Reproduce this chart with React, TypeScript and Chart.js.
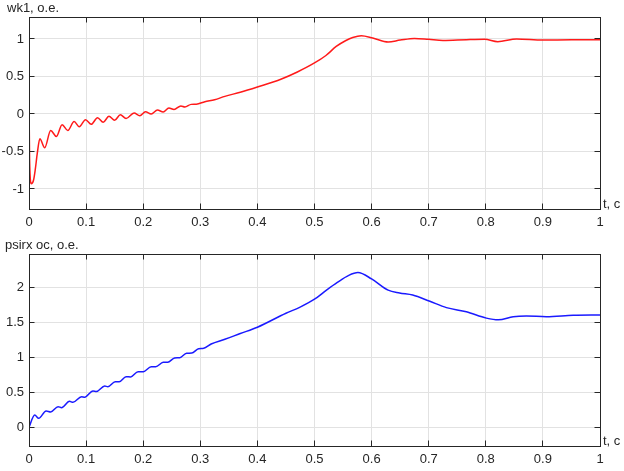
import React, { useEffect, useRef } from "react";
import { Chart, registerables } from "chart.js";

Chart.register(...registerables);

// ---- data ----
const tWk1 = [
  0, 0.001, 0.004, 0.008, 0.011, 0.0146, 0.019, 0.0275, 0.038, 0.048, 0.058, 0.068, 0.079, 0.088,
  0.099, 0.109, 0.12, 0.13, 0.14, 0.15, 0.16, 0.17, 0.184, 0.194, 0.204, 0.214, 0.225, 0.235,
  0.245, 0.254, 0.266, 0.273, 0.284, 0.293, 0.308, 0.325, 0.343, 0.37, 0.4, 0.44, 0.47, 0.5,
  0.52, 0.538, 0.555, 0.567, 0.582, 0.602, 0.629, 0.65, 0.675, 0.7, 0.725, 0.766, 0.798, 0.821,
  0.854, 0.9, 0.95, 1.0,
];
const wk1 = [
  0.23, -0.6, -0.93, -0.88, -0.74, -0.52, -0.33, -0.45, -0.22, -0.3, -0.143, -0.22, -0.1, -0.17,
  -0.076, -0.138, -0.049, -0.11, -0.03, -0.085, -0.01, -0.06, 0.013, -0.023, 0.03, 0.0, 0.053, 0.027,
  0.08, 0.06, 0.107, 0.093, 0.128, 0.13, 0.164, 0.19, 0.235, 0.29, 0.36, 0.46, 0.56, 0.68,
  0.78, 0.9, 0.98, 1.02, 1.044, 1.013, 0.96, 0.985, 1.008, 0.995, 0.98, 0.99, 0.995, 0.964,
  1.0, 0.985, 0.99, 0.99,
];

const tPsi = [
  0, 0.01, 0.017, 0.03, 0.038, 0.051, 0.057, 0.071, 0.077, 0.092, 0.0975, 0.112, 0.118, 0.1326,
  0.138, 0.151, 0.158, 0.17, 0.178, 0.191, 0.2, 0.214, 0.222, 0.235, 0.243, 0.255, 0.264, 0.276,
  0.285, 0.297, 0.306, 0.319, 0.343, 0.37, 0.4, 0.45, 0.474, 0.5, 0.521, 0.54, 0.56, 0.576, 0.6,
  0.629, 0.649, 0.672, 0.702, 0.731, 0.766, 0.801, 0.822, 0.848, 0.871, 0.906, 0.953, 1.0,
];
const psirx = [
  0, 0.176, 0.128, 0.233, 0.219, 0.295, 0.28, 0.371, 0.357, 0.437, 0.43, 0.52, 0.51, 0.59,
  0.58, 0.652, 0.65, 0.723, 0.72, 0.795, 0.795, 0.866, 0.866, 0.928, 0.93, 0.99, 0.995, 1.057,
  1.06, 1.123, 1.13, 1.19, 1.257, 1.34, 1.43, 1.63, 1.714, 1.83, 1.96, 2.07, 2.17, 2.21, 2.12,
  1.96, 1.92, 1.89, 1.8, 1.71, 1.65, 1.56, 1.535, 1.58, 1.59, 1.58, 1.6, 1.604,
];

const xTicks = [0, 0.1, 0.2, 0.3, 0.4, 0.5, 0.6, 0.7, 0.8, 0.9, 1];
const xTickLabels = ["0", "0.1", "0.2", "0.3", "0.4", "0.5", "0.6", "0.7", "0.8", "0.9", "1"];
const yTicksWk1 = [-1, -0.5, 0, 0.5, 1];
const yTickLabelsWk1 = ["-1", "-0.5", "0", "0.5", "1"];
const yTicksPsi = [0, 0.5, 1, 1.5, 2];
const yTickLabelsPsi = ["0", "0.5", "1", "1.5", "2"];
const wk1Range = [-1.267, 1.293];
const psiRange = [-0.267, 2.476];

const titleWk1 = "wk1, o.e.";
const titlePsi = "psirx oc, o.e.";
const xLabel = "t, c";

const FONT = '"Liberation Sans", Arial, Helvetica, sans-serif';
const TEXT = "#262626";

function framePlugin(title: string, titleX: number) {
  return {
    id: "frame",
    afterDraw(chart: any) {
      const { ctx, chartArea: a, scales } = chart;
      const al = (p: number) => Math.round(p - 0.5) + 0.5;
      ctx.save();
      ctx.strokeStyle = TEXT;
      ctx.lineWidth = 1;
      const L = 5.5;
      ctx.beginPath();
      scales.x.ticks.forEach((t: any) => {
        const px = al(scales.x.getPixelForValue(t.value));
        ctx.moveTo(px, a.bottom);
        ctx.lineTo(px, a.bottom - L);
        ctx.moveTo(px, a.top);
        ctx.lineTo(px, a.top + L);
      });
      scales.y.ticks.forEach((t: any) => {
        const py = al(scales.y.getPixelForValue(t.value));
        ctx.moveTo(a.left, py);
        ctx.lineTo(a.left + L, py);
        ctx.moveTo(a.right, py);
        ctx.lineTo(a.right - L, py);
      });
      ctx.stroke();
      ctx.strokeRect(al(a.left), al(a.top), Math.round(a.right - a.left), Math.round(a.bottom - a.top));
      ctx.fillStyle = TEXT;
      ctx.font = `13px ${FONT}`;
      ctx.textAlign = "left";
      ctx.textBaseline = "alphabetic";
      ctx.fillText(title, titleX, a.top - 5);
      ctx.fillText(xLabel, a.right + 3, a.bottom - 1);
      ctx.restore();
    },
  };
}

function makeConfig(
  t: number[],
  v: number[],
  color: string,
  range: number[],
  yTicks: number[],
  yLabels: string[],
  title: string,
  titleX: number,
  padTop: number,
  xHeight: number
): any {
  return {
    type: "line",
    data: {
      datasets: [
        {
          data: t.map((x, i) => ({ x, y: v[i] })),
          borderColor: color,
          borderWidth: 1.5,
          pointRadius: 0,
          fill: false,
          cubicInterpolationMode: "monotone",
        },
      ],
    },
    options: {
      responsive: false,
      animation: false,
      devicePixelRatio: 1,
      layout: { padding: { top: padTop, left: 0, right: 24, bottom: 0 } },
      plugins: { legend: { display: false }, tooltip: { enabled: false }, title: { display: false } },
      scales: {
        x: {
          type: "linear",
          min: 0,
          max: 1,
          afterBuildTicks: (s: any) => {
            s.ticks = xTicks.map((value) => ({ value }));
          },
          afterFit: (s: any) => {
            s.height = xHeight;
          },
          ticks: {
            callback: (_v: any, i: number) => xTickLabels[i],
            color: TEXT,
            font: { family: FONT, size: 13 },
            padding: 6,
            maxRotation: 0,
            autoSkip: false,
          },
          grid: { color: "#e2e2e2", drawTicks: false, lineWidth: 1 },
          border: { display: false },
        },
        y: {
          type: "linear",
          min: range[0],
          max: range[1],
          afterBuildTicks: (s: any) => {
            s.ticks = yTicks.map((value) => ({ value }));
          },
          afterFit: (s: any) => {
            s.width = 29;
          },
          ticks: {
            callback: (_v: any, i: number) => yLabels[i],
            color: TEXT,
            font: { family: FONT, size: 13 },
            padding: 5,
            autoSkip: false,
          },
          grid: { color: "#e2e2e2", drawTicks: false, lineWidth: 1 },
          border: { display: false },
        },
      },
    },
    plugins: [framePlugin(title, titleX)],
  };
}

export default function App() {
  const ref1 = useRef<HTMLCanvasElement>(null);
  const ref2 = useRef<HTMLCanvasElement>(null);

  useEffect(() => {
    const c1 = new Chart(
      ref1.current as HTMLCanvasElement,
      makeConfig(tWk1, wk1, "#ff1a1a", wk1Range, yTicksWk1, yTickLabelsWk1, titleWk1, 7, 17, 23)
    );
    const c2 = new Chart(
      ref2.current as HTMLCanvasElement,
      makeConfig(tPsi, psirx, "#1a1aff", psiRange, yTicksPsi, yTickLabelsPsi, titlePsi, 5, 22, 25)
    );
    return () => {
      c1.destroy();
      c2.destroy();
    };
  }, []);

  return (
    <div style={{ position: "absolute", left: 0, top: 0, width: 624, height: 471, background: "#fff" }}>
      <canvas
        ref={ref1}
        width={624}
        height={232}
        style={{ position: "absolute", left: 0, top: 0, width: 624, height: 232, display: "block" }}
      />
      <canvas
        ref={ref2}
        width={624}
        height={239}
        style={{ position: "absolute", left: 0, top: 232, width: 624, height: 239, display: "block" }}
      />
    </div>
  );
}
